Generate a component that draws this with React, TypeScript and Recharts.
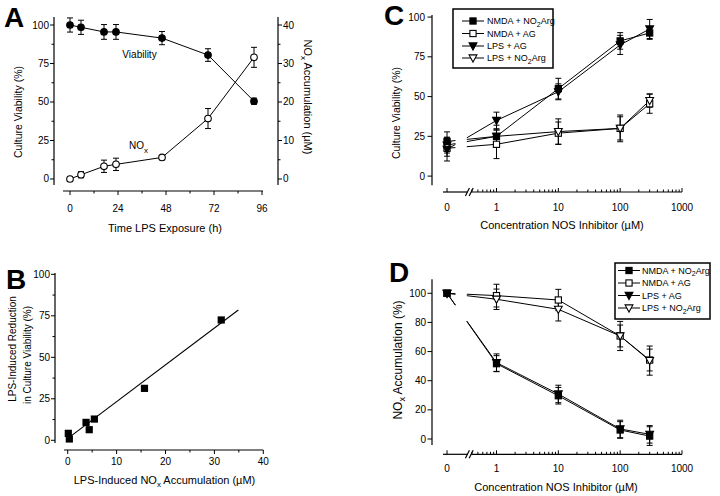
import React from 'react';
import { ComposedChart, Line, Scatter, XAxis, YAxis, ErrorBar, ReferenceLine } from 'recharts';

const FONT = '"Liberation Sans", Arial, Helvetica, sans-serif';

// ---------- Panel A: viability and NOx vs time ----------
const timeA = [0, 5.5, 17, 23, 46, 69, 92];
const viability = [100, 98.5, 95.5, 95.5, 91.5, 80.5, 50.5];
const viabilityErr = [4.6, 4.6, 4.8, 4.8, 4.3, 4.1, 2];
const noxA = [0, 1.1, 3.3, 3.8, 5.6, 15.7, 31.6];
const noxAErr = [0.5, 0.8, 1.6, 1.6, 0.4, 2.6, 2.6];
const timeTicks = [0, 24, 48, 72, 96];
const timeMinor = [12, 36, 60, 84];
const viabTicks = [0, 25, 50, 75, 100];
const viabMinor = [12.5, 37.5, 62.5, 87.5];
const noxTicks = [0, 10, 20, 30, 40];
const noxMinor = [5, 15, 25, 35];

// ---------- Panel B: reduction vs NOx ----------
const noxB = [0.12, 0.33, 3.75, 4.4, 5.45, 15.7, 31.4];
const reductionB = [4.2, 0.8, 10.8, 6.4, 12.8, 31.3, 72.5];
const fitX = [0.5, 34.9];
const fitY = [2.2, 78.5];
const noxBTicks = [0, 10, 20, 30, 40];
const noxBMinor = [5, 15, 25, 35];
const reductionTicks = [0, 25, 50, 75, 100];
const reductionMinor = [12.5, 37.5, 62.5, 87.5];

// ---------- Panels C & D: NOS inhibitor concentration ----------
const conc = [0, 1, 10, 100, 300];
const concTicks = [0, 1, 10, 100, 1000];
const concTickLabels = ['0', '1', '10', '100', '1000'];
const minorMult = [2, 3, 4, 5, 6, 7, 8, 9];
const minorDecades = [1, 10, 100];
const belowOne = [0.4, 0.5, 0.6, 0.7, 0.8, 0.9];

const viabNmdaNo2Arg = [21.8, 25, 55, 85, 90];
const viabNmdaNo2ArgErr = [6, 4, 6.5, 5.2, 4];
const viabLpsAg = [16.8, 35, 53, 82.5, 92.5];
const viabLpsAgErr = [7.3, 5.2, 5, 6, 6];
const viabNmdaAg = [17.5, 20, 27, 30, 45.5];
const viabNmdaAgErr = [5, 9, 7, 7.3, 6];
const viabLpsNo2Arg = [19.5, 25, 28, 30, 47.5];
const viabLpsNo2ArgErr = [5, 7, 8, 8.4, 4.2];
const viabCTicks = [0, 25, 50, 75, 100];

const noxNmdaNo2Arg = [100, 51.7, 29.7, 6.2, 2];
const noxNmdaNo2ArgErr = [1, 5.5, 5.7, 5.7, 6.4];
const noxLpsAg = [100, 52.4, 30.9, 6.9, 3.2];
const noxLpsAgErr = [1, 6, 6, 6, 6];
const noxNmdaAg = [100, 98.4, 95.4, 70.7, 54.2];
const noxNmdaAgErr = [1, 7.8, 7.3, 7.5, 7.5];
const noxLpsNo2Arg = [100, 95.9, 89, 70.7, 53.8];
const noxLpsNo2ArgErr = [1, 7, 8, 10, 10];
const noxDTicks = [0, 20, 40, 60, 80, 100];

const legendNames = ['NMDA + NO', 'NMDA + AG', 'LPS + AG', 'LPS + NO'];
const legendKinds = ['fsq', 'osq', 'ftri', 'otri'];
const legendSub = [true, false, false, true];

// position of "0" on the broken log axis
const ZERO_POS = -0.8;
const GAP_FROM = 0.17;
const GAP_TO = 0.4;
const pos = (c: number) => (c === 0 ? ZERO_POS : Math.log10(c));

const concMajorPos = concTicks.map(pos);
const concMinorPos = [
  ...belowOne.map((v) => Math.log10(v)),
  ...minorDecades.flatMap((d) => minorMult.map((m) => Math.log10(m * d))),
];

type Kind = 'fsq' | 'osq' | 'ftri' | 'otri' | 'fcirc' | 'ocirc';

function Mark({ cx, cy, kind }: { cx: number; cy: number; kind: Kind }) {
  if (cx == null || cy == null) return null;
  const fill = kind[0] === 'f' ? '#000' : '#fff';
  if (kind.endsWith('sq'))
    return <rect x={cx - 3.1} y={cy - 3.1} width={6.2} height={6.2} fill={fill} stroke="#000" strokeWidth={1.1} />;
  if (kind.endsWith('tri'))
    return (
      <polygon
        points={`${cx - 3.9},${cy - 3.1} ${cx + 3.9},${cy - 3.1} ${cx},${cy + 4.1}`}
        fill={fill}
        stroke="#000"
        strokeWidth={1.1}
      />
    );
  return <circle cx={cx} cy={cy} r={3.3} fill={fill} stroke="#000" strokeWidth={1.1} />;
}

type TickCfg = {
  side: 'left' | 'right' | 'bottom';
  majors: number[];
  len: number;
  minorLen: number;
  up?: boolean;
  off: number;
  label?: (v: number) => string;
};

const makeTick = (c: TickCfg) => (p: any) => {
  const v = p.payload.value;
  const major = c.majors.includes(v);
  const L = major ? c.len : c.minorLen;
  const text = major ? (c.label ? c.label(v) : String(v)) : '';
  const x = p.x;
  const y = p.y;
  if (c.side === 'left')
    return (
      <g>
        <line x1={x} y1={y} x2={x - L} y2={y} stroke="#000" strokeWidth={1} />
        {text && (
          <text x={x - c.off} y={y + 3.5} textAnchor="end" fontSize={10} fontFamily={FONT} fill="#000">
            {text}
          </text>
        )}
      </g>
    );
  if (c.side === 'right')
    return (
      <g>
        <line x1={x} y1={y} x2={x + L} y2={y} stroke="#000" strokeWidth={1} />
        {text && (
          <text x={x + c.off} y={y + 3.5} textAnchor="start" fontSize={10} fontFamily={FONT} fill="#000">
            {text}
          </text>
        )}
      </g>
    );
  const dir = c.up ? -1 : 1;
  return (
    <g>
      <line x1={x} y1={y} x2={x} y2={y + dir * L} stroke="#000" strokeWidth={1} />
      {text && (
        <text x={x} y={y + c.off} textAnchor="middle" fontSize={10} fontFamily={FONT} fill="#000">
          {text}
        </text>
      )}
    </g>
  );
};

const axisProps = { axisLine: false, tickLine: false, tickSize: 0, tickMargin: 0, interval: 0 as const, allowDataOverflow: true };

function AxisLine({ a, b, yAxisId }: { a: { x: number; y: number }; b: { x: number; y: number }; yAxisId?: string }) {
  return (
    <ReferenceLine
      segment={[a, b]}
      stroke="#000"
      strokeWidth={1.2}
      ifOverflow="visible"
      {...(yAxisId ? { yAxisId } : {})}
    />
  );
}

// ---------- Panel A ----------
const dataViab = timeA.map((t, i) => ({ t, v: viability[i], e: viabilityErr[i] }));
const dataNoxA = timeA.map((t, i) => ({ t, n: noxA[i], e: noxAErr[i] }));

function PanelA() {
  const xd: [number, number] = [-8, 104];
  const yd: [number, number] = [-7.8, 105.2];
  return (
    <ComposedChart width={360} height={240} margin={{ top: 17, right: 42, bottom: 19, left: 14 }}>
      <XAxis
        type="number"
        dataKey="t"
        domain={xd}
        ticks={[...timeTicks, ...timeMinor]}
        height={30}
        tick={makeTick({ side: 'bottom', majors: timeTicks, len: 4, minorLen: 2.5, off: 20.5 })}
        {...axisProps}
      />
      <YAxis
        yAxisId="v"
        type="number"
        domain={yd}
        width={40}
        ticks={[...viabTicks, ...viabMinor]}
        tick={makeTick({ side: 'left', majors: viabTicks, len: 4, minorLen: 2.5, off: 5 })}
        {...axisProps}
      />
      <YAxis
        yAxisId="n"
        orientation="right"
        type="number"
        domain={[yd[0] * 0.4, yd[1] * 0.4]}
        width={40}
        ticks={[...noxTicks, ...noxMinor]}
        tick={makeTick({ side: 'right', majors: noxTicks, len: 4, minorLen: 2.5, off: 5 })}
        {...axisProps}
      />
      <AxisLine yAxisId="v" a={{ x: xd[0], y: -3.9 }} b={{ x: xd[0], y: yd[1] }} />
      <AxisLine yAxisId="v" a={{ x: xd[1], y: -3.9 }} b={{ x: xd[1], y: yd[1] }} />
      <AxisLine yAxisId="v" a={{ x: -3.5, y: yd[0] }} b={{ x: 96.5, y: yd[0] }} />
      <Line
        yAxisId="v"
        data={dataViab}
        dataKey="v"
        stroke="#000"
        strokeWidth={1}
        isAnimationActive={false}
        dot={(p: any) => <Mark key={p.index} cx={p.cx} cy={p.cy} kind="fcirc" />}
      >
        <ErrorBar dataKey="e" width={3} stroke="#000" strokeWidth={1} direction="y" />
      </Line>
      <Line
        yAxisId="n"
        data={dataNoxA}
        dataKey="n"
        stroke="#000"
        strokeWidth={1}
        isAnimationActive={false}
        dot={(p: any) => <Mark key={p.index} cx={p.cx} cy={p.cy} kind="ocirc" />}
      >
        <ErrorBar dataKey="e" width={3} stroke="#000" strokeWidth={1} direction="y" />
      </Line>
    </ComposedChart>
  );
}

// ---------- Panel B ----------
const dataB = noxB.map((x, i) => ({ x, y: reductionB[i] }));
const dataFit = fitX.map((x, i) => ({ x, y: fitY[i] }));

function PanelB() {
  const xd: [number, number] = [-2.6, 40.35];
  const yd: [number, number] = [-5.84, 100.8];
  return (
    <ComposedChart width={360} height={256} margin={{ top: 33, right: 95, bottom: 16, left: 15 }}>
      <XAxis
        type="number"
        dataKey="x"
        domain={xd}
        ticks={[...noxBTicks, ...noxBMinor]}
        height={30}
        tick={makeTick({ side: 'bottom', majors: noxBTicks, len: 4, minorLen: 2.5, off: 15.2 })}
        {...axisProps}
      />
      <YAxis
        type="number"
        dataKey="y"
        domain={yd}
        width={40}
        ticks={[...reductionTicks, ...reductionMinor]}
        tick={makeTick({ side: 'left', majors: reductionTicks, len: 4, minorLen: 2.5, off: 5 })}
        {...axisProps}
      />
      <AxisLine a={{ x: xd[0], y: -1.6 }} b={{ x: xd[0], y: yd[1] }} />
      <AxisLine a={{ x: -0.75, y: yd[0] }} b={{ x: 40, y: yd[0] }} />
      <Line data={dataFit} dataKey="y" stroke="#000" strokeWidth={1.1} dot={false} isAnimationActive={false} />
      <Scatter
        data={dataB}
        dataKey="y"
        isAnimationActive={false}
        shape={(p: any) => (
          <rect x={p.cx - 3.6} y={p.cy - 3.6} width={7.2} height={7.2} fill="#000" />
        )}
      />
    </ComposedChart>
  );
}

// ---------- Panels C & D ----------
type Series = { kind: Kind; vals: number[]; errs: number[] };

function ConcPanel({
  height,
  top,
  bottom,
  yd,
  yTicks,
  yAxisBottom,
  labelOff,
  yOff,
  series,
}: {
  height: number;
  top: number;
  bottom: number;
  yd: [number, number];
  yTicks: number[];
  yAxisBottom: number;
  labelOff: number;
  yOff: number;
  series: Series[];
}) {
  const xd: [number, number] = [-1.043, 3.0];
  const plotW = 250;
  const plotH = height - top - bottom - 30;
  const unitPx = plotH / (yd[1] - yd[0]);
  const decadePx = plotW / (xd[1] - xd[0]);
  const sx = 2 / decadePx;
  const sy = 4 / unitPx;
  const built = series.map((s) => ({
    ...s,
    data: conc.map((c, i) => ({ x: pos(c), y: s.vals[i], e: s.errs[i] })),
    dash: (() => {
      const dx = (0 - ZERO_POS) * decadePx;
      const dy = (s.vals[1] - s.vals[0]) * unitPx;
      const L = Math.hypot(dx, dy);
      return `${GAP_FROM * L} ${(GAP_TO - GAP_FROM) * L} ${L}`;
    })(),
  }));
  const labelOf = (v: number) => concTickLabels[concMajorPos.indexOf(v)];
  return (
    <ComposedChart width={360} height={height} margin={{ top, right: 38, bottom, left: 32 }}>
      <XAxis
        type="number"
        dataKey="x"
        domain={xd}
        ticks={[...concMajorPos, ...concMinorPos]}
        height={30}
        tick={makeTick({ side: 'bottom', majors: concMajorPos, len: 4, minorLen: 2.5, up: true, off: labelOff, label: labelOf })}
        {...axisProps}
      />
      <YAxis
        type="number"
        dataKey="y"
        domain={yd}
        width={40}
        ticks={yTicks}
        tick={makeTick({ side: 'left', majors: yTicks, len: 4.5, minorLen: 2.5, off: yOff })}
        {...axisProps}
      />
      <AxisLine a={{ x: xd[0], y: yAxisBottom }} b={{ x: xd[0], y: yd[1] }} />
      <AxisLine a={{ x: -0.865, y: yd[0] }} b={{ x: -0.47, y: yd[0] }} />
      <AxisLine a={{ x: -0.41, y: yd[0] }} b={{ x: 3.0, y: yd[0] }} />
      <AxisLine a={{ x: -0.47 - sx, y: yd[0] - sy }} b={{ x: -0.47 + sx, y: yd[0] + sy }} />
      <AxisLine a={{ x: -0.41 - sx, y: yd[0] - sy }} b={{ x: -0.41 + sx, y: yd[0] + sy }} />
      {built.map((s, k) => (
        <Line
          key={'g' + k}
          data={s.data.slice(0, 2)}
          dataKey="y"
          stroke="#000"
          strokeWidth={1}
          strokeDasharray={s.dash}
          dot={false}
          isAnimationActive={false}
        />
      ))}
      {built.map((s, k) => (
        <Line
          key={'s' + k}
          data={s.data.slice(1)}
          dataKey="y"
          stroke="#000"
          strokeWidth={1}
          dot={false}
          isAnimationActive={false}
        />
      ))}
      {built.map((s, k) => (
        <Line
          key={'m' + k}
          data={s.data}
          dataKey="y"
          stroke="none"
          isAnimationActive={false}
          dot={(p: any) => <Mark key={p.index} cx={p.cx} cy={p.cy} kind={s.kind} />}
        >
          <ErrorBar dataKey="e" width={3} stroke="#000" strokeWidth={1} direction="y" />
        </Line>
      ))}
    </ComposedChart>
  );
}

const seriesC: Series[] = [
  { kind: 'osq', vals: viabNmdaAg, errs: viabNmdaAgErr },
  { kind: 'otri', vals: viabLpsNo2Arg, errs: viabLpsNo2ArgErr },
  { kind: 'ftri', vals: viabLpsAg, errs: viabLpsAgErr },
  { kind: 'fsq', vals: viabNmdaNo2Arg, errs: viabNmdaNo2ArgErr },
];
const seriesD: Series[] = [
  { kind: 'osq', vals: noxNmdaAg, errs: noxNmdaAgErr },
  { kind: 'otri', vals: noxLpsNo2Arg, errs: noxLpsNo2ArgErr },
  { kind: 'ftri', vals: noxLpsAg, errs: noxLpsAgErr },
  { kind: 'fsq', vals: noxNmdaNo2Arg, errs: noxNmdaNo2ArgErr },
];

function LegendBox({ x, y, w, h, rows, mx, tx }: { x: number; y: number; w: number; h: number; rows: number[]; mx: number; tx: number }) {
  return (
    <g>
      <rect x={x} y={y} width={w} height={h} fill="#fff" stroke="#000" strokeWidth={1.5} />
      {rows.map((ry, i) => (
        <g key={i}>
          <line x1={mx - 11} y1={ry} x2={mx + 11} y2={ry} stroke="#000" strokeWidth={1} />
          <Mark cx={mx} cy={ry} kind={legendKinds[i] as Kind} />
          <text x={tx} y={ry + 3.2} fontSize={9} fontFamily={FONT} fill="#000">
            {legendNames[i]}
            {legendSub[i] && (
              <>
                <tspan fontSize={7} dy={2.5}>2</tspan>
                <tspan dy={-2.5}>Arg</tspan>
              </>
            )}
          </text>
        </g>
      ))}
    </g>
  );
}

function Overlay() {
  const t = { fontFamily: FONT, fill: '#000' } as const;
  const letter = { fontFamily: FONT, fontWeight: 900, fontSize: 28, fill: '#000' } as const;
  return (
    <svg width={720} height={496} style={{ position: 'absolute', left: 0, top: 0, pointerEvents: 'none' }}>
      {/* panel letters */}
      <text x={4} y={27} {...letter}>A</text>
      <text x={6} y={289} {...letter}>B</text>
      <text x={384} y={25} {...letter}>C</text>
      <text x={389} y={282} {...letter}>D</text>

      {/* Panel A */}
      <text {...t} fontSize={10.5} textAnchor="middle" transform="translate(21.5,112) rotate(-90)">
        Culture Viability (%)
      </text>
      <text {...t} fontSize={11} textAnchor="middle" transform="translate(304,97) rotate(90)">
        NO<tspan fontSize={8} dy={3}>x</tspan>
        <tspan dy={-3}> Accumulation (µM)</tspan>
      </text>
      <text {...t} fontSize={10} x={139.5} y={57.8} textAnchor="middle">Viability</text>
      <text {...t} fontSize={10} x={129} y={148.5}>
        NO<tspan fontSize={8} dy={4}>x</tspan>
      </text>
      <text {...t} fontSize={11} x={165} y={231.5} textAnchor="middle">Time LPS Exposure (h)</text>

      {/* Panel B */}
      <text {...t} fontSize={10} textAnchor="middle" transform="translate(15.5,349) rotate(-90)">
        LPS-Induced Reduction
      </text>
      <text {...t} fontSize={10} textAnchor="middle" transform="translate(30.5,355) rotate(-90)">
        in Culture Viability (%)
      </text>
      <text {...t} fontSize={11} x={164.5} y={484} textAnchor="middle">
        LPS-Induced NO<tspan fontSize={8} dy={3}>x</tspan>
        <tspan dy={-3}> Accumulation (µM)</tspan>
      </text>

      {/* Panel C */}
      <text {...t} fontSize={10.5} textAnchor="middle" transform="translate(399.5,113) rotate(-90)">
        Culture Viability (%)
      </text>
      <text {...t} fontSize={11} x={562} y={229} textAnchor="middle">Concentration NOS Inhibitor (µM)</text>
      <LegendBox x={453} y={9} w={100} h={59} rows={[21, 33.5, 46, 58]} mx={473} tx={487} />

      {/* Panel D */}
      <text {...t} fontSize={12} textAnchor="middle" transform="translate(401.5,360) rotate(-90)">
        NO<tspan fontSize={9} dy={3}>x</tspan>
        <tspan dy={-3}> Accumulation (%)</tspan>
      </text>
      <text {...t} fontSize={11} x={556} y={491} textAnchor="middle">Concentration NOS Inhibitor (µM)</text>
      <LegendBox x={615} y={263} w={95} h={56} rows={[270.5, 283, 295.5, 308]} mx={629} tx={642} />
    </svg>
  );
}

export default function App() {
  return (
    <div style={{ position: 'absolute', left: 0, top: 0, width: 720, height: 496, background: '#fff', fontFamily: FONT }}>
      <div style={{ position: 'absolute', left: 0, top: 0 }}>
        <PanelA />
      </div>
      <div style={{ position: 'absolute', left: 0, top: 240 }}>
        <PanelB />
      </div>
      <div style={{ position: 'absolute', left: 360, top: 0 }}>
        <ConcPanel
          height={250}
          top={15}
          bottom={28}
          yd={[-10, 101.3]}
          yTicks={viabCTicks}
          yAxisBottom={-5.7}
          labelOff={18.8}
          yOff={7}
          series={seriesC}
        />
      </div>
      <div style={{ position: 'absolute', left: 360, top: 250 }}>
        <ConcPanel
          height={246}
          top={29.3}
          bottom={11.7}
          yd={[-10.5, 109.6]}
          yTicks={noxDTicks}
          yAxisBottom={-4.1}
          labelOff={17.2}
          yOff={6}
          series={seriesD}
        />
      </div>
      <Overlay />
    </div>
  );
}
